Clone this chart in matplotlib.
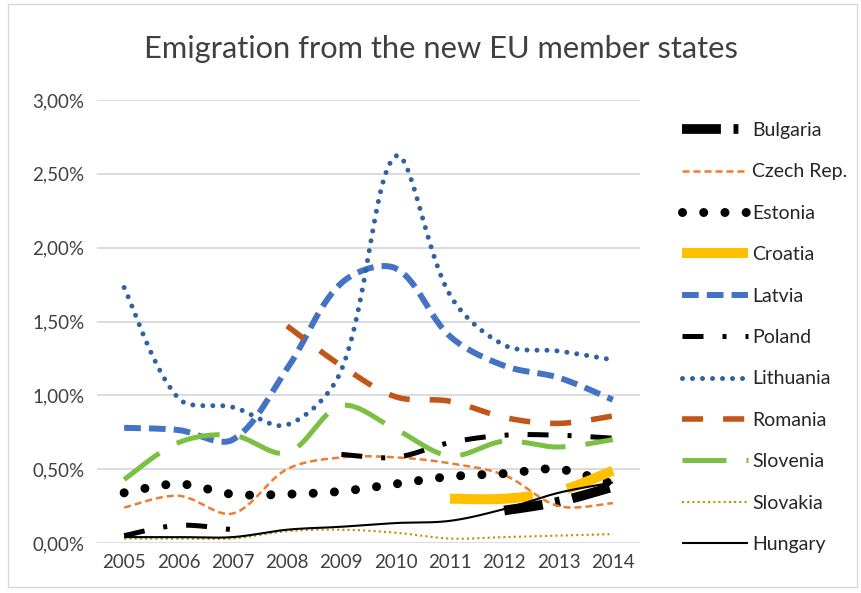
import numpy as np
import matplotlib
matplotlib.use("Agg")
import matplotlib.pyplot as plt
from matplotlib.patches import Rectangle
from matplotlib.ticker import FuncFormatter, MultipleLocator

years = ["2005", "2006", "2007", "2008", "2009", "2010", "2011", "2012", "2013", "2014"]
nan = np.nan
bulgaria  = [nan, nan, nan, nan, nan, nan, nan, 0.22, 0.28, 0.38]
czech     = [0.24, 0.32, 0.20, 0.50, 0.58, 0.58, 0.54, 0.46, 0.25, 0.27]
estonia   = [0.34, 0.40, 0.33, 0.33, 0.35, 0.40, 0.45, 0.47, 0.50, 0.40]
croatia   = [nan, nan, nan, nan, nan, nan, 0.30, 0.30, 0.35, 0.49]
latvia    = [0.78, 0.765, 0.70, 1.18, 1.76, 1.86, 1.40, 1.20, 1.12, 0.97]
poland    = [0.05, 0.12, 0.09, nan, 0.60, 0.58, 0.68, 0.73, 0.73, 0.71]
lithuania = [1.73, 0.98, 0.92, 0.80, 1.17, 2.62, 1.68, 1.34, 1.30, 1.24]
romania   = [nan, nan, nan, 1.47, 1.20, 0.99, 0.96, 0.85, 0.81, 0.86]
slovenia  = [0.43, 0.68, 0.73, 0.61, 0.93, 0.77, 0.59, 0.69, 0.65, 0.70]
slovakia  = [0.03, 0.03, 0.03, 0.08, 0.09, 0.07, 0.03, 0.04, 0.05, 0.06]
hungary   = [0.04, 0.04, 0.04, 0.09, 0.11, 0.135, 0.15, 0.23, 0.34, 0.41]

series = [
    ("Bulgaria", bulgaria, dict(color="#000000", lw=7.0, ls=(0, (4.0, 1.3, 0.5, 1.3)))),
    ("Czech Rep.", czech, dict(color="#ED7D31", lw=1.8, ls=(0, (2.8, 1.6)))),
    ("Estonia", estonia, dict(color="#000000", lw=6.5, ls=(0, (0.001, 2.35)), dash_capstyle="round")),
    ("Croatia", croatia, dict(color="#FFC000", lw=7.2, ls=(0, (8.3, 3.5)))),
    ("Latvia", latvia, dict(color="#4472C4", lw=4.3, ls=(0, (2.8, 1.35)))),
    ("Poland", poland, dict(color="#000000", lw=3.6, ls=(0, (4.2, 3.8, 0.8, 3.8)))),
    ("Lithuania", lithuania, dict(color="#2E62A0", lw=3.6, ls=(0, (0.001, 2.0)), dash_capstyle="round")),
    ("Romania", romania, dict(color="#C0561A", lw=4.0, ls=(0, (3.8, 3.6)))),
    ("Slovenia", slovenia, dict(color="#7AC143", lw=3.6, ls=(0, (8.8, 4.0)))),
    ("Slovakia", slovakia, dict(color="#BF9000", lw=1.5, ls=(0, (1.0, 1.5)))),
    ("Hungary", hungary, dict(color="#000000", lw=1.5, ls="-")),
]

W, H = 862, 593
x0, x1, ytop, ybot = 97, 640, 100, 543
YMAX = 3.0
SX = (x1 - x0) / len(years)      # pixels per category
SY = (ybot - ytop) / YMAX        # pixels per percent


def smooth_runs(ys, n=30, k=1.0 / 3.0):
    """Excel-like smoothed line: Bezier segments whose control points are
    weighted by neighbouring segment lengths (measured in pixel space)."""
    ys = np.asarray(ys, dtype=float)
    xs = np.arange(len(ys), dtype=float)
    runs, cur = [], []
    for x, y in zip(xs, ys):
        if np.isnan(y):
            if cur:
                runs.append(cur)
            cur = []
        else:
            cur.append((x, y))
    if cur:
        runs.append(cur)
    scale = np.array([SX, SY])
    out = []
    for run in runs:
        if len(run) < 2:
            continue
        P = np.array(run) * scale
        m = len(P)
        pts = []
        for i in range(m - 1):
            p0 = P[i - 1] if i > 0 else P[i]
            p1, p2 = P[i], P[i + 1]
            p3 = P[i + 2] if i + 2 < m else P[i + 1]
            d01 = np.linalg.norm(p1 - p0)
            d12 = np.linalg.norm(p2 - p1)
            d23 = np.linalg.norm(p3 - p2)
            f1 = d12 / (d01 + d12) if d01 > 0 else 0.5
            f2 = d12 / (d12 + d23) if d23 > 0 else 0.5
            c1 = p1 + (p2 - p0) * f1 * k
            c2 = p2 - (p3 - p1) * f2 * k
            t = np.linspace(0, 1, n)[:, None]
            seg = ((1 - t) ** 3) * p1 + 3 * ((1 - t) ** 2) * t * c1 + 3 * (1 - t) * t ** 2 * c2 + t ** 3 * p2
            pts.append(seg if i == 0 else seg[1:])
        out.append(np.vstack(pts) / scale)
    return out


fig = plt.figure(figsize=(W / 100, H / 100), dpi=100)
plt.rcParams["font.family"] = ["Lato", "DejaVu Sans"]
TXT = "#404040"

fig.patches.append(Rectangle((8 / W, 1 - 587 / H), 849 / W, 583 / H, transform=fig.transFigure,
                             fill=False, edgecolor="#D9D9D9", lw=1.0))

ax = fig.add_axes([x0 / W, 1 - ybot / H, (x1 - x0) / W, (ybot - ytop) / H])
ax.set_xlim(-0.5, len(years) - 0.5)
ax.set_ylim(0, YMAX)
for s in ax.spines.values():
    s.set_visible(False)
ax.yaxis.set_major_locator(MultipleLocator(0.5))
ax.yaxis.set_major_formatter(FuncFormatter(lambda v, p: f"{v:.2f}".replace(".", ",") + "%"))
ax.grid(axis="y", color="#D9D9D9", lw=1.3)
ax.set_axisbelow(True)
ax.set_xticks(range(len(years)))
ax.set_xticklabels(years)
ax.tick_params(axis="both", length=0, colors=TXT, labelsize=13.5)
ax.tick_params(axis="y", pad=9)
ax.tick_params(axis="x", pad=8)

handles = []
for name, vals, st in series:
    kw = dict(color=st["color"], lw=st["lw"], linestyle=st["ls"],
              dash_capstyle=st.get("dash_capstyle", "butt"), solid_capstyle="butt")
    first = None
    for pts in smooth_runs(vals):
        ln, = ax.plot(pts[:, 0], pts[:, 1], **kw)
        if first is None:
            first = ln
    first.set_label(name)
    handles.append(first)

fig.legend(handles=handles, loc="upper left", bbox_to_anchor=(682 / W, 1 - 122 / H),
           frameon=False, fontsize=14, handlelength=3.4, handletextpad=0.2,
           labelspacing=1.255, borderpad=0, borderaxespad=0, labelcolor="#262626")

fig.text(441 / W, 1 - 49 / H, "Emigration from the new EU member states", ha="center", va="center",
         fontsize=22.2, color=TXT)

fig.savefig("out.png", dpi=100)
